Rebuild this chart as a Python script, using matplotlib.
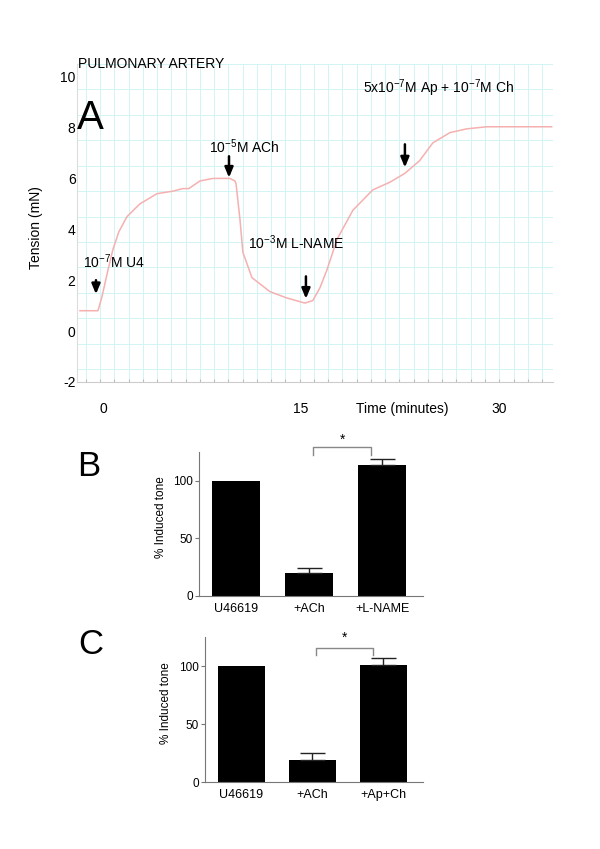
import numpy as np
import matplotlib
matplotlib.use("Agg")
import matplotlib.pyplot as plt
from matplotlib import transforms

plt.rcParams['font.family'] = ['Liberation Sans', 'DejaVu Sans']
plt.rcParams['mathtext.default'] = 'regular'
plt.rcParams['axes.unicode_minus'] = False

# Panel A: tension trace (minutes, mN)
trace_time = [-1.74, -0.38, -0.1, 0.38, 0.75, 1.2, 1.82, 2.8, 4.09, 5.3, 6.06,
              6.5, 7.35, 8.33, 9.62, 10.0, 10.08, 10.38, 10.6, 11.29, 12.65,
              13.94, 15.3, 15.9, 16.44, 16.97, 17.73, 18.94, 20.45, 21.74,
              22.88, 24.0, 25.0, 26.29, 27.58, 29.09, 31.06, 34.0]
trace_tension = [0.8, 0.8, 1.3, 2.4, 3.2, 3.9, 4.5, 5.0, 5.4, 5.5, 5.6,
                 5.6, 5.9, 6.0, 6.0, 5.9, 5.8, 4.4, 3.1, 2.1, 1.55,
                 1.3, 1.1, 1.2, 1.7, 2.4, 3.6, 4.75, 5.55, 5.85,
                 6.2, 6.7, 7.4, 7.8, 7.95, 8.03, 8.03, 8.03]

# drug additions: label text/position and arrow position
drug_labels = ['10$^{-7}$M U4', '10$^{-5}$M ACh', '10$^{-3}$M L-NAME',
               '5x10$^{-7}$M Ap + 10$^{-7}$M Ch']
label_x = [-1.52, 8.03, 10.98, 19.7]
label_y = [2.72, 7.24, 3.46, 9.53]
arrow_x = [-0.53, 9.55, 15.38, 22.88]
arrow_top = [2.0, 6.87, 2.15, 7.34]
arrow_tip = [1.45, 6.03, 1.27, 6.43]

time_labels = ['0', '15', '30']
time_label_pos = [0, 15, 30]

# Panels B and C: % induced tone
categories_b = ['U46619', '+ACh', '+L-NAME']
tone_b = [100, 20, 114]
err_b = [0, 4, 5]
categories_c = ['U46619', '+ACh', '+Ap+Ch']
tone_c = [100, 19, 101]
err_c = [0, 6, 6]

fig = plt.figure(figsize=(6, 8.49), dpi=100)

# ---- Panel A ----
ax = fig.add_axes([0.1283, 0.5501, 0.7933, 0.3746])
grid_col = '#d2f4f4'
x_grid = np.arange(-1.29, 34.1, 1.08)
y_grid = np.arange(-1.5, 10.6, 1.0)
for xg in x_grid:
    ax.axvline(xg, color=grid_col, lw=0.7, zorder=0)
for yg in y_grid:
    ax.axhline(yg, color=grid_col, lw=0.7, zorder=0)

ax.plot(trace_time, trace_tension, color='#f5b0b0', lw=1.1, zorder=2)

for lab, lx, ly, axx, at, tip in zip(drug_labels, label_x, label_y,
                                      arrow_x, arrow_top, arrow_tip):
    ax.text(lx, ly, lab, fontsize=10, ha='left', va='center')
    ax.annotate('', xy=(axx, tip), xytext=(axx, at),
                arrowprops=dict(arrowstyle='-|>,head_length=0.6,head_width=0.25',
                                color='black', lw=1.8, shrinkA=0, shrinkB=0))

ax.set_xlim(-1.97, 34.1)
ax.set_ylim(-2, 10.5)
ax.set_yticks([-2, 0, 2, 4, 6, 8, 10])
ax.tick_params(axis='y', length=0, labelsize=10, pad=1)
ax.set_xticks(x_grid)
ax.set_xticklabels([])
ax.tick_params(axis='x', direction='in', length=2, color='#bbbbbb')
for s in ['top', 'right']:
    ax.spines[s].set_visible(False)
ax.spines['bottom'].set_color('#cccccc')
ax.spines['left'].set_color('#dddddd')

tr = transforms.blended_transform_factory(ax.transData, ax.transAxes)
for lab, pos in zip(time_labels, time_label_pos):
    ax.text(pos, -0.085, lab, transform=tr, ha='center', va='center', fontsize=10)
ax.text(22.7, -0.085, 'Time (minutes)', transform=tr, ha='center', va='center',
        fontsize=10)

fig.text(36 / 600, 1 - 228 / 849, 'Tension (mN)', rotation=90, ha='center',
         va='center', fontsize=10)
fig.text(0.13, 1 - 64 / 849, 'PULMONARY ARTERY', ha='left', va='center', fontsize=10)
fig.text(0.128, 1 - 118 / 849, 'A', ha='left', va='center', fontsize=29)


def bar_panel(rect, cats, vals, errs, brack_y, brack_leg, star_y, ylab_xy):
    bx = fig.add_axes(rect)
    x = np.arange(len(cats))
    bx.bar(x, vals, width=0.66, color='black', zorder=2)
    e = np.array(errs)
    bx.errorbar(x[1:], np.array(vals)[1:], yerr=[np.zeros(len(e) - 1), e[1:]],
                fmt='none', ecolor='#222222', elinewidth=1, capsize=9,
                capthick=1, zorder=3)
    bx.set_xlim(-0.51, 2.56)
    bx.set_ylim(0, 125)
    bx.set_yticks([0, 50, 100])
    bx.set_xticks(x)
    bx.set_xticklabels(cats, fontsize=9)
    bx.tick_params(axis='x', length=0, pad=5)
    bx.tick_params(axis='y', length=3, color='#777777', labelsize=8.5, pad=1.5)
    for s in ['top', 'right']:
        bx.spines[s].set_visible(False)
    for s in ['left', 'bottom']:
        bx.spines[s].set_color('#777777')
    bx.set_ylabel('% Induced tone', fontsize=8.5)
    bx.yaxis.set_label_coords(*ylab_xy)
    # significance bracket between +ACh and the third bar
    bx.plot([1.05, 1.05, 1.85, 1.85], [brack_leg, brack_y, brack_y, brack_leg],
            color='#888888', lw=1, clip_on=False)
    bx.text(1.45, star_y, '*', ha='center', va='center', fontsize=10,
            clip_on=False)
    return bx


bar_panel([0.3317, 0.298, 0.3733, 0.1696], categories_b, tone_b, err_b,
          129, 122, 136, (-0.143, 0.55))
fig.text(0.128, 1 - 467 / 849, 'B', ha='left', va='center', fontsize=25)

bar_panel([0.3417, 0.0789, 0.3633, 0.1708], categories_c, tone_c, err_c,
          115.5, 109.5, 124, (-0.151, 0.545))
fig.text(0.13, 1 - 644 / 849, 'C', ha='left', va='center', fontsize=25)

fig.savefig('out.png', dpi=100)
